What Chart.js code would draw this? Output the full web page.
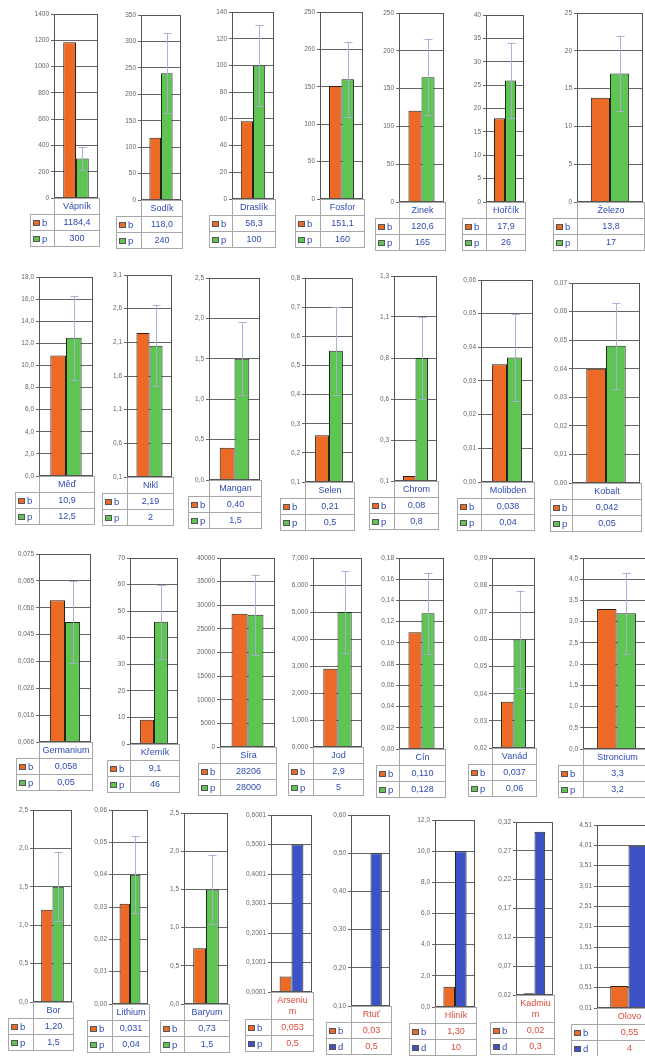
<!DOCTYPE html>
<html>
<head>
<meta charset="utf-8">
<script src="https://cdn.jsdelivr.net/npm/chart.js@4"></script>
<style>
  html, body { margin: 0; padding: 0; background: #fff; }
  body { width: 645px; height: 1056px; position: relative; overflow: hidden; }
  canvas { position: absolute; }
  table.tb { position: absolute; border-collapse: collapse; table-layout: fixed;
             font-family: "Liberation Sans", Arial, sans-serif; font-size: 9px; }
  table.tb td { border: 1px solid #a8a8a8; padding: 0; height: 15px; text-align: center;
                white-space: pre-line; line-height: 11px; overflow: hidden; }
  table.tb td.blank { border: none; }
  table.tb td.leg { text-align: left; padding-left: 2px; color: #2f4ab4; font-size: 9.5px; }
  table.tb td.cat { height: 15px; }
  .sw { display: inline-block; width: 5px; height: 4px; border: 1px solid #555;
        margin-right: 2px; vertical-align: 0px; }
</style>
</head>
<body>
<script>
// Element names shown under each panel
const elements = ['Vápník', 'Sodík', 'Draslík', 'Fosfor', 'Zinek', 'Hořčík', 'Železo',
  'Měď', 'Nikl', 'Mangan', 'Selen', 'Chrom', 'Molibden', 'Kobalt',
  'Germanium', 'Křemík', 'Síra', 'Jod', 'Cín', 'Vanád', 'Stroncium',
  'Bor', 'Lithium', 'Baryum', 'Arseniu\nm', 'Rtuť', 'Hliník', 'Kadmiu\nm', 'Olovo'];

// Measured value (series "b") as printed in the tables
const textB = ['1184,4', '118,0', '58,3', '151,1', '120,6', '17,9', '13,8',
  '10,9', '2,19', '0,40', '0,21', '0,08', '0,038', '0,042',
  '0,058', '9,1', '28206', '2,9', '0,110', '0,037', '3,3',
  '1,20', '0,031', '0,73', '0,053', '0,03', '1,30', '0,02', '0,55'];

// Reference value (series "p" / "d") as printed in the tables
const textP = ['300', '240', '100', '160', '165', '26', '17',
  '12,5', '2', '1,5', '0,5', '0,8', '0,04', '0,05',
  '0,05', '46', '28000', '5', '0,128', '0,06', '3,2',
  '1,5', '0,04', '1,5', '0,5', '0,5', '10', '0,3', '4'];

// Legend letter of the second series
const secondKey = ['p', 'p', 'p', 'p', 'p', 'p', 'p',
  'p', 'p', 'p', 'p', 'p', 'p', 'p',
  'p', 'p', 'p', 'p', 'p', 'p', 'p',
  'p', 'p', 'p', 'p', 'd', 'd', 'd', 'd'];

// Range (±) drawn around the reference value; 0 = no range
const rangeP = [90, 75, 30, 50, 50, 8, 5,
  3.8, 0.6, 0.45, 0.15, 0.25, 0.013, 0.015,
  0.015, 14, 8500, 1.5, 0.038, 0.018, 0.95,
  0.45, 0.012, 0.45, 0, 0, 0, 0, 0];

// Value axis limits
const axisMin = [0, 0, 0, 0, 0, 0, 0,
  0, 0.05, 0, 0.05, 0.05, 0.003, 0.002,
  0.006, 0, 0, 0, 0, 0.02, 0,
  0, 0, 0, 0.0001, 0.1, 0, 0.017, 0.01];
const axisMax = [1400, 350, 140, 250, 250, 40, 25,
  18, 3.05, 2.5, 0.75, 1.3, 0.063, 0.072,
  0.075, 70, 40000, 7, 0.18, 0.09, 4.5,
  2.5, 0.06, 2.5, 0.6001, 0.6, 12, 0.317, 4.51];

// Value axis tick labels, bottom to top
const tickLabels = [
  ['0', '200', '400', '600', '800', '1000', '1200', '1400'],
  ['0', '50', '100', '150', '200', '250', '300', '350'],
  ['0', '20', '40', '60', '80', '100', '120', '140'],
  ['0', '50', '100', '150', '200', '250'],
  ['0', '50', '100', '150', '200', '250'],
  ['0', '5', '10', '15', '20', '25', '30', '35', '40'],
  ['0', '5', '10', '15', '20', '25'],
  ['0,0', '2,0', '4,0', '6,0', '8,0', '10,0', '12,0', '14,0', '16,0', '18,0'],
  ['0,1', '0,6', '1,1', '1,6', '2,1', '2,6', '3,1'],
  ['0,0', '0,5', '1,0', '1,5', '2,0', '2,5'],
  ['0,1', '0,2', '0,3', '0,4', '0,5', '0,6', '0,7', '0,8'],
  ['0,1', '0,3', '0,6', '0,8', '1,1', '1,3'],
  ['0,00', '0,01', '0,02', '0,03', '0,04', '0,05', '0,06'],
  ['0,00', '0,01', '0,02', '0,03', '0,04', '0,05', '0,06', '0,07'],
  ['0,006', '0,016', '0,026', '0,036', '0,045', '0,056', '0,065', '0,075'],
  ['0', '10', '20', '30', '40', '50', '60', '70'],
  ['0', '5000', '10000', '15000', '20000', '25000', '30000', '35000', '40000'],
  ['0,000', '1,000', '2,000', '3,000', '4,000', '5,000', '6,000', '7,000'],
  ['0,00', '0,02', '0,04', '0,06', '0,08', '0,10', '0,12', '0,14', '0,16', '0,18'],
  ['0,02', '0,03', '0,04', '0,05', '0,06', '0,07', '0,08', '0,09'],
  ['0,0', '0,5', '1,0', '1,5', '2,0', '2,5', '3,0', '3,5', '4,0', '4,5'],
  ['0,0', '0,5', '1,0', '1,5', '2,0', '2,5'],
  ['0,00', '0,01', '0,02', '0,03', '0,04', '0,05', '0,06'],
  ['0,0', '0,5', '1,0', '1,5', '2,0', '2,5'],
  ['0,0001', '0,1001', '0,2001', '0,3001', '0,4001', '0,5001', '0,6001'],
  ['0,10', '0,20', '0,30', '0,40', '0,50', '0,60'],
  ['0,0', '2,0', '4,0', '6,0', '8,0', '10,0', '12,0'],
  ['0,02', '0,07', '0,12', '0,17', '0,22', '0,27', '0,32'],
  ['0,01', '0,51', '1,01', '1,51', '2,01', '2,51', '3,01', '3,51', '4,01', '4,51']
];

// ---- page layout: plot box [left, top, right, bottom, tableLeft] per panel ----
const boxes = [
  [54, 14, 98, 198, 30], [141, 15, 181, 200, 116], [232, 12, 274, 199, 209],
  [320, 12, 363, 199, 295], [399, 13, 444, 202, 375], [486, 15, 524, 202, 462],
  [577, 13, 643, 202, 553],
  [39, 277, 93, 476, 15], [127, 275, 172, 477, 102], [209, 278, 260, 480, 188],
  [305, 278, 353, 482, 280], [394, 276, 437, 481, 369], [481, 280, 533, 482, 457],
  [572, 283, 640, 483, 550],
  [39, 554, 91, 742, 16], [130, 558, 178, 744, 107], [220, 558, 275, 747, 198],
  [313, 558, 362, 747, 288], [399, 558, 444, 749, 376], [492, 558, 535, 748, 468],
  [583, 558, 650, 749, 558],
  [33, 810, 72, 1002, 8], [112, 810, 148, 1004, 87], [184, 813, 228, 1004, 160],
  [271, 815, 312, 992, 245], [351, 815, 390, 1006, 326], [435, 820, 475, 1007, 409],
  [516, 822, 553, 995, 490], [597, 825, 660, 1008, 571]
];

const ORANGE = '#ec6a26';
const GREEN = '#5ec553';
const BLUE = '#3c52c6';
const TEXT_BLUE = '#2f4ab4';
const TEXT_RED = '#e0493a';
const GRID = '#666';
const AX = 36;     // room for the value axis labels
const PAD = 6;     // canvas margin above / below the plot box

const toNum = s => parseFloat(s.replace(',', '.'));

// Frame around the plot area
const framePlugin = {
  id: 'frame',
  afterDraw(chart) {
    const a = chart.chartArea, c = chart.ctx;
    c.save();
    c.strokeStyle = '#555';
    c.lineWidth = 1;
    c.strokeRect(Math.round(a.left) + 0.5, Math.round(a.top) + 0.5,
      Math.round(a.right - a.left) - 1, Math.round(a.bottom - a.top) - 1);
    c.restore();
  }
};

// Range whisker over the reference bar
const rangePlugin = {
  id: 'range',
  afterDatasetsDraw(chart, args, opts) {
    const e = opts.range;
    if (!e) return;
    const meta = chart.getDatasetMeta(1);
    const bar = meta.data[0];
    const v = chart.data.datasets[1].data[0];
    const ys = chart.scales.y;
    const yTop = ys.getPixelForValue(v + e);
    const yBot = Math.min(ys.getPixelForValue(v - e), chart.chartArea.bottom);
    const x = Math.round(bar.x) + 0.5;
    const c = chart.ctx;
    c.save();
    c.strokeStyle = 'rgba(165,175,212,0.95)';
    c.lineWidth = 1;
    c.beginPath();
    c.moveTo(x, yTop); c.lineTo(x, yBot);
    c.moveTo(x - 4, Math.round(yTop) + 0.5); c.lineTo(x + 4, Math.round(yTop) + 0.5);
    if (ys.getPixelForValue(v - e) < chart.chartArea.bottom) {
      c.moveTo(x - 4, Math.round(yBot) + 0.5); c.lineTo(x + 4, Math.round(yBot) + 0.5);
    }
    c.stroke();
    c.restore();
  }
};

elements.forEach((name, i) => {
  const [L, T, R, B, TL] = boxes[i];
  const blueSecond = secondKey[i] === 'd' || i >= 24;
  const second = blueSecond ? BLUE : GREEN;
  const txt = i >= 24 ? TEXT_RED : TEXT_BLUE;
  const min = axisMin[i], max = axisMax[i], labels = tickLabels[i];

  const cw = R - L + AX + 1, ch = B - T + 2 * PAD;
  const canvas = document.createElement('canvas');
  canvas.width = cw; canvas.height = ch;
  canvas.style.left = (L - AX) + 'px';
  canvas.style.top = (T - PAD) + 'px';
  canvas.style.width = cw + 'px';
  canvas.style.height = ch + 'px';
  document.body.appendChild(canvas);

  new Chart(canvas, {
    type: 'bar',
    data: {
      labels: [name],
      datasets: [
        { label: 'b', data: [toNum(textB[i])], backgroundColor: ORANGE,
          borderColor: '#2b2118', borderWidth: 1, borderSkipped: 'start' },
        { label: secondKey[i], data: [toNum(textP[i])], backgroundColor: second,
          borderColor: '#1f2a1c', borderWidth: 1, borderSkipped: 'start' }
      ]
    },
    options: {
      responsive: false,
      devicePixelRatio: 1,
      animation: false,
      events: [],
      layout: { padding: { left: 0, right: 1, top: PAD, bottom: PAD } },
      datasets: { bar: { categoryPercentage: 0.58, barPercentage: 1, clip: 0 } },
      plugins: {
        legend: { display: false },
        tooltip: { enabled: false },
        range: { range: rangeP[i] }
      },
      scales: {
        x: { display: false, offset: true },
        y: {
          min: min, max: max, bounds: 'data',
          afterFit(scale) { scale.width = AX; },
          afterBuildTicks(scale) {
            const step = (max - min) / (labels.length - 1);
            scale.ticks = labels.map((_, k) => ({ value: min + k * step }));
          },
          ticks: {
            autoSkip: false, padding: 2, color: '#666',
            font: { family: '"Liberation Sans", Arial, sans-serif', size: 6.5 },
            callback: (v, k) => labels[k]
          },
          grid: { color: GRID, lineWidth: 1, tickLength: 3, drawTicks: true },
          border: { display: true, color: '#555' }
        }
      }
    },
    plugins: [framePlugin, rangePlugin]
  });

  // data table under the panel
  const legW = L - TL, valW = R - L;
  const catLines = name.split('\n').length;
  const t = document.createElement('table');
  t.className = 'tb';
  t.style.left = TL + 'px';
  t.style.top = B + 'px';
  t.style.width = (legW + valW + 1) + 'px';
  t.innerHTML =
    `<colgroup><col style="width:${legW}px"><col style="width:${valW + 1}px"></colgroup>` +
    `<tr><td class="blank"></td><td class="cat" style="color:${txt};height:${catLines > 1 ? 26 : 15}px">${name}</td></tr>` +
    `<tr><td class="leg"><span class="sw" style="background:${ORANGE}"></span>b</td>` +
    `<td style="color:${txt}">${textB[i]}</td></tr>` +
    `<tr><td class="leg"><span class="sw" style="background:${second}"></span>${secondKey[i]}</td>` +
    `<td style="color:${txt}">${textP[i]}</td></tr>`;
  document.body.appendChild(t);
});
</script>
</body>
</html>
